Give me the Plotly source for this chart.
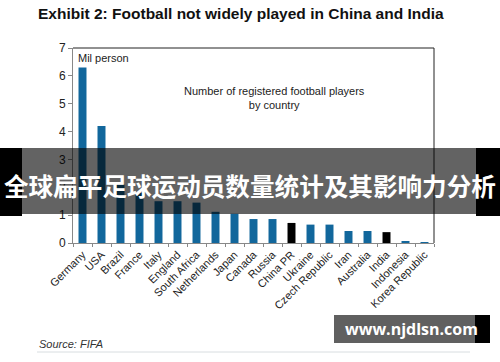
import plotly.graph_objects as go

countries = ["Germany", "USA", "Brazil", "France", "Italy", "England", "South Africa",
             "Netherlands", "Japan", "Canada", "Russia", "China PR", "Ukraine",
             "Czech Republic", "Iran", "Australia", "India", "Indonesia", "Korea Republic"]
players_mil = [6.3, 4.2, 2.1, 1.8, 1.5, 1.5, 1.45, 1.12, 1.05, 0.86, 0.86, 0.72, 0.66,
               0.66, 0.43, 0.43, 0.39, 0.06, 0.03]
highlight = {"China PR", "India"}
y_ticks = [0, 1, 2, 3, 4, 5, 6, 7]

BLUE = "#12679c"
colors = ["#000000" if c in highlight else BLUE for c in countries]

fig = go.Figure(go.Bar(x=countries, y=players_mil, marker_color=colors,
                       marker_line_width=0, width=0.42))

PW, PH, L, T = 361, 195, 73, 48


def px(x):
    return (x - L) / PW


def py(y):
    return (T + PH - y) / PH


fig.update_layout(
    width=500, height=362,
    margin=dict(l=L, r=500 - L - PW, t=T, b=362 - T - PH),
    paper_bgcolor="white", plot_bgcolor="white",
    showlegend=False,
    font=dict(family="Liberation Sans, Arial, sans-serif", color="#222", size=11),
)
fig.update_xaxes(tickangle=-45, showline=True, linecolor="#888", linewidth=1,
                 ticks="outside", tickson="boundaries", ticklen=3, tickcolor="#888",
                 tickfont=dict(size=11, color="#222"), showgrid=False, automargin=False)
fig.update_yaxes(range=[0, 7], tickvals=y_ticks, showline=True, linecolor="#888",
                 linewidth=1, ticks="outside", ticklen=4, tickcolor="#888",
                 tickfont=dict(size=12, color="#222"), showgrid=False, zeroline=False,
                 automargin=False)

shapes = [
    dict(type="line", xref="paper", yref="paper", x0=0, x1=1, y0=1, y1=1,
         line=dict(color="#222", width=1)),
    dict(type="line", xref="paper", yref="paper", x0=1, x1=1, y0=0, y1=1,
         line=dict(color="#222", width=1)),
    dict(type="rect", xref="paper", yref="paper", x0=px(22), x1=px(476),
         y0=py(214), y1=py(148), fillcolor="rgba(0,0,0,0.61)",
         line=dict(width=0), layer="above"),
    dict(type="rect", xref="paper", yref="paper", x0=px(0), x1=px(22),
         y0=py(216), y1=py(148), fillcolor="black", line=dict(width=0), layer="above"),
    dict(type="rect", xref="paper", yref="paper", x0=px(476), x1=px(500),
         y0=py(216), y1=py(148), fillcolor="black", line=dict(width=0), layer="above"),
    dict(type="rect", xref="paper", yref="paper", x0=px(334), x1=px(475),
         y0=py(343), y1=py(315), fillcolor="#606060", line=dict(width=0), layer="above"),
    dict(type="rect", xref="paper", yref="paper", x0=px(475), x1=px(490),
         y0=py(343), y1=py(315), fillcolor="black", line=dict(width=0), layer="above"),
    dict(type="line", xref="paper", yref="paper", x0=px(37), x1=px(470),
         y0=py(352), y1=py(352), line=dict(color="#d8dde0", width=1)),
]
fig.update_layout(shapes=shapes)

annotations = [
    dict(text="<b>Exhibit 2: Football not widely played in China and India</b>",
         xref="paper", yref="paper", x=px(36), y=py(14),
         xanchor="left", yanchor="middle", showarrow=False,
         font=dict(size=15.5, color="#111")),
    dict(text="Mil person", xref="paper", yref="paper", x=px(76), y=py(58),
         xanchor="left", yanchor="middle", showarrow=False,
         font=dict(size=11, color="#222")),
    dict(text="Number of registered football players<br>by country",
         xref="paper", yref="paper", x=px(274), y=py(98),
         xanchor="center", yanchor="middle", showarrow=False, align="center",
         font=dict(size=11, color="#222")),
    dict(text="<b>全球扁平足球运动员数量统计及其影响力分析</b>",
         xref="paper", yref="paper", x=px(250), y=py(185),
         xanchor="center", yanchor="middle", showarrow=False,
         font=dict(size=24.6, color="white", family="Noto Sans CJK SC")),
    dict(text="<b>www.njdlsn.com</b>", xref="paper", yref="paper",
         x=px(411), y=py(329), xanchor="center", yanchor="middle",
         showarrow=False, font=dict(size=16, color="white",
                                    family="Open Sans, DejaVu Sans, sans-serif")),
    dict(text="<i>Source: FIFA</i>", xref="paper", yref="paper",
         x=px(37), y=py(344), xanchor="left", yanchor="middle",
         showarrow=False, font=dict(size=11, color="#333")),
]
fig.update_layout(annotations=annotations)

fig.write_html("out.html", config={"displayModeBar": False},
               post_script="document.body.style.margin='0';")
